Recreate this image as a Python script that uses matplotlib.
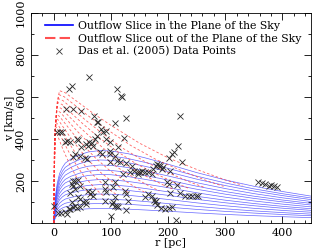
import numpy as np
import matplotlib
matplotlib.use("Agg")
import matplotlib.pyplot as plt
from matplotlib.lines import Line2D
from matplotlib.ticker import MultipleLocator

plt.rcParams['font.family'] = ['DejaVu Serif']

# top blue curve (outflow slice in the plane of the sky)
blue_r = [0, 1, 3, 6, 10, 15, 20, 30, 45, 60, 80, 100, 130, 160, 200, 250, 300, 350, 400, 450]
blue_v = [0, 60, 130, 190, 235, 265, 285, 305, 325, 338, 345, 343, 330, 310, 280, 240, 205, 175, 150, 128]
# relative amplitude of each blue curve
blue_amp = [1.0, 0.93, 0.87, 0.80, 0.73, 0.67, 0.60, 0.53, 0.47, 0.40, 0.33, 0.27, 0.20]

# top red curve (out of the plane of the sky)
red_r = [0, 1, 3, 6, 10, 20, 40, 70, 100, 150, 200, 250, 300, 330]
red_v = [0, 250, 450, 580, 630, 620, 580, 520, 465, 380, 310, 255, 205, 180]
# r and v scale of each red curve
red_rs = [1.0, 0.9, 0.8, 0.72, 0.64, 0.56, 0.48, 0.40, 0.33, 0.26, 0.2]
red_vs = [1.0, 0.97, 0.94, 0.91, 0.88, 0.85, 0.82, 0.79, 0.76, 0.73, 0.70]

# Das et al. (2005) data points
das_r = [61, 27, 31, 111, 118, 120, 126, 107, 22, 33, 47, 70, 77, 75, 82, 86, 220, 6, 10, 15,
         19, 23, 28, 40, 42, 57, 62, 60, 66, 72, 75, 92, 98, 91, 112, 47, 69, 122,
         37, 45, 54, 58, 34, 80, 85, 98, 107, 98, 98, 110, 115, 127, 136, 147, 150, 159,
         165, 171, 121, 133, 140, 147, 155, 174, 180, 185, 191, 178, 184, 189, 204, 217,
         210, 207, 201, 224,
         37, 42, 34, 45, 31, 34, 37, 29, 60, 63, 69, 66, 89, 92, 89, 104, 107, 124, 127,
         42, 45, 57, 57, 51, 31, 37, 40, 45, 34, 28, 26, 8, 13, 19, 23, 0, 101, 107, 112,
         89, 104, 107, 110, 100, 130, 127, 159, 165, 171, 177, 180, 175, 178, 198, 201,
         216, 204, 221, 230, 236, 242, 248, 253, 187, 195, 201, 207, 213,
         358, 364, 370, 376, 380, 385, 390]
das_v = [697, 640, 652, 638, 606, 600, 500, 476, 543, 543, 535, 508, 482, 479, 448, 432, 511, 432, 432, 432,
         384, 390, 384, 400, 397, 376, 387, 368, 381, 400, 416, 400, 384, 440, 360, 360, 368, 403,
         329, 320, 308, 305, 313, 337, 329, 329, 320, 344, 289, 297, 289, 286, 273, 233, 241, 241,
         241, 233, 233, 243, 246, 243, 246, 257, 281, 273, 265, 273, 277, 257, 249, 368,
         337, 329, 308, 289,
         201, 206, 201, 178, 186, 178, 162, 143, 154, 138, 130, 146, 162, 146, 194, 170, 194, 154, 138,
         122, 114, 90, 106, 98, 98, 82, 70, 75, 75, 67, 65, 48, 48, 51, 45, 82, 90, 80, 75,
         106, 98, 122, 82, 32, 106, 63, 122, 138, 127, 98, 86, 111, 106, 194, 186,
         181, 143, 143, 130, 127, 127, 127, 130, 70, 67, 70, 75, 16,
         197, 190, 186, 178, 182, 178, 170]

fig = plt.figure(figsize=(3.14, 2.49), dpi=100)
ax = fig.add_axes([0.0987, 0.1044, 0.8917, 0.8434])

for a in blue_amp:
    ax.plot(blue_r, np.array(blue_v) * a, color="#4a4aff", lw=0.5, alpha=0.85)

for rs, vs in zip(red_rs, red_vs):
    ax.plot(np.array(red_r) * rs, np.array(red_v) * vs, color="#ff3030", lw=0.6,
            dashes=(3, 2.5), alpha=0.75)

ax.plot(das_r, das_v, "x", color="#2a2a2a", ms=4.2, mew=0.6)

ax.set_xlim(-40, 450)
ax.set_ylim(0, 1000)
ax.xaxis.set_major_locator(MultipleLocator(100))
ax.xaxis.set_minor_locator(MultipleLocator(20))
ax.yaxis.set_major_locator(MultipleLocator(200))
ax.yaxis.set_minor_locator(MultipleLocator(100))
ax.tick_params(which="both", direction="in", top=True, right=True, labelsize=8, width=0.6)
ax.tick_params(which="major", length=5)
ax.tick_params(which="minor", length=2.5)
ax.set_yticks([200, 400, 600, 800, 1000])
for t in ax.get_yticklabels():
    t.set_rotation(90)
    t.set_va("center")
for s in ax.spines.values():
    s.set_linewidth(0.6)
ax.set_xlabel("r [pc]", fontsize=8, labelpad=0)
ax.set_ylabel("v [km/s]", fontsize=8, labelpad=1)

handles = [Line2D([], [], color="blue", lw=1.2),
           Line2D([], [], color="#ff5050", lw=1.5, dashes=(5, 2)),
           Line2D([], [], color="#333333", ls="", marker="x", ms=4, mew=0.6)]
labels = ["Outflow Slice in the Plane of the Sky",
          "Outflow Slice out of the Plane of the Sky",
          "Das et al. (2005) Data Points"]
ax.legend(handles, labels, loc="upper left", bbox_to_anchor=(0.035, 0.983), frameon=False,
          fontsize=7.8, handlelength=2.6, handletextpad=0.4, labelspacing=0.25, borderaxespad=0)

fig.savefig("out.png", dpi=100)
